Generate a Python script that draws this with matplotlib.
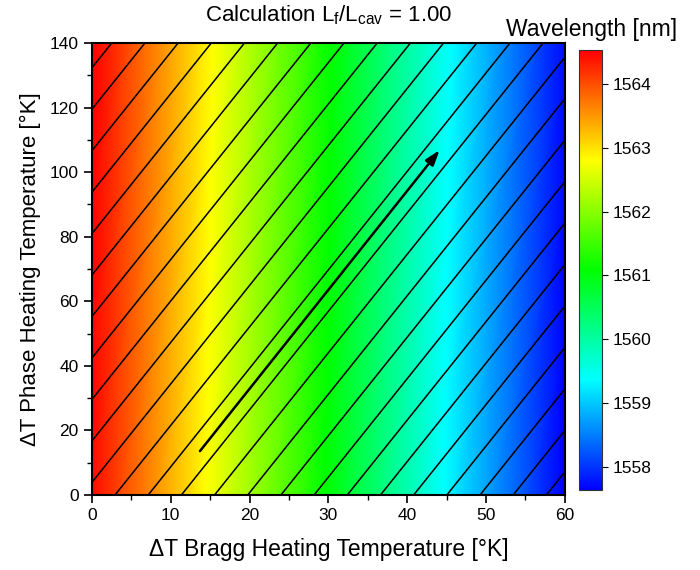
import numpy as np
import matplotlib
matplotlib.use("Agg")
import matplotlib.pyplot as plt
from matplotlib.colors import LinearSegmentedColormap, Normalize
from matplotlib.cm import ScalarMappable

plt.rcParams['font.family'] = ['Liberation Sans', 'DejaVu Sans']
plt.rcParams['mathtext.fontset'] = 'custom'
plt.rcParams['mathtext.rm'] = 'Liberation Sans'
plt.rcParams['mathtext.it'] = 'Liberation Sans'
plt.rcParams['mathtext.default'] = 'regular'

# ---- data ----
bragg_range = [0, 60]          # Delta T Bragg [K]
phase_range = [0, 140]         # Delta T Phase [K]
# wavelength [nm] at the corners: rows = phase (0, 140), cols = bragg (0, 60)
corner_wavelength = [[1564.44, 1557.64],
                     [1564.53, 1557.73]]
# mode-hop contour lines: Bragg temperature where each line meets phase = 0
hop_intercepts = [-43.39, -39.18, -34.97, -30.76, -26.55, -22.34, -18.13, -13.92,
                  -9.71, -5.50, -1.29, 2.92, 7.13, 11.34, 15.55, 19.76, 23.97,
                  28.18, 32.39, 36.60, 40.81, 45.02, 49.23, 53.44, 57.65]
hop_slope = 3.05               # d(phase)/d(bragg) along a mode-hop line
arrow_start = [13.7, 13.6]
arrow_end = [44.1, 106.8]
cbar_ticks = [1558, 1559, 1560, 1561, 1562, 1563, 1564]
x_ticks = [0, 10, 20, 30, 40, 50, 60]
y_ticks = [0, 20, 40, 60, 80, 100, 120, 140]

# ---- grid ----
xb = np.linspace(bragg_range[0], bragg_range[1], 241)
yp = np.linspace(phase_range[0], phase_range[1], 281)
X, Y = np.meshgrid(xb, yp)
u = (X - bragg_range[0]) / (bragg_range[1] - bragg_range[0])
v = (Y - phase_range[0]) / (phase_range[1] - phase_range[0])
c = np.array(corner_wavelength)
W = (c[0, 0] * (1 - u) * (1 - v) + c[0, 1] * u * (1 - v)
     + c[1, 0] * (1 - u) * v + c[1, 1] * u * v)
M = X - Y / hop_slope

cmap = LinearSegmentedColormap.from_list(
    "rb", [(0.0, "#0000ff"), (0.25, "#00ffff"), (0.5, "#00ff00"),
           (0.75, "#ffff00"), (1.0, "#ff0000")])
norm = Normalize(vmin=W.min(), vmax=W.max())

fig = plt.figure(figsize=(7.0, 5.7), dpi=100)
ax = fig.add_axes([0.1314, 0.1316, 0.6756, 0.793])
ax.imshow(W, origin='lower', extent=[bragg_range[0], bragg_range[1], phase_range[0], phase_range[1]],
          aspect='auto', cmap=cmap, norm=norm, interpolation='bilinear')
ax.contour(X, Y, M, levels=hop_intercepts, colors='black', linewidths=1.1,
           linestyles='solid')
ax.annotate('', xy=arrow_end, xytext=arrow_start,
            arrowprops=dict(arrowstyle='-|>,head_length=0.9,head_width=0.3',
                            color='black', lw=1.8, shrinkA=0, shrinkB=0))

ax.set_xlim(bragg_range)
ax.set_ylim(phase_range)
ax.set_xticks(x_ticks)
ax.set_yticks(y_ticks)
ax.set_xticks(np.arange(5, 60, 10), minor=True)
ax.set_yticks(np.arange(10, 140, 20), minor=True)
ax.tick_params(which='major', direction='out', length=6, width=1.2, labelsize=12.5, colors='black')
ax.tick_params(which='minor', direction='out', length=3.5, width=1.0)
for s in ax.spines.values():
    s.set_linewidth(1.5)
ax.set_xlabel('ΔT Bragg Heating Temperature [°K]', fontsize=16.5, labelpad=11)
ax.set_ylabel('ΔT Phase Heating Temperature [°K]', fontsize=16, labelpad=6)
fig.text(0.469, 0.973, r'Calculation L$_{f}$/L$_{cav}$ = 1.00', fontsize=16,
         ha='center', va='center')
fig.text(0.845, 0.948, 'Wavelength [nm]', fontsize=16.5, ha='center', va='center')

cax = fig.add_axes([0.827, 0.1404, 0.033, 0.772])
cb = fig.colorbar(ScalarMappable(norm=norm, cmap=cmap), cax=cax)
cb.set_ticks(cbar_ticks)
cb.outline.set_linewidth(0.8)
cb.outline.set_edgecolor('#333333')
cax.tick_params(direction='out', length=4, width=0.8, labelsize=12.5)

fig.savefig('out.png', dpi=100)
